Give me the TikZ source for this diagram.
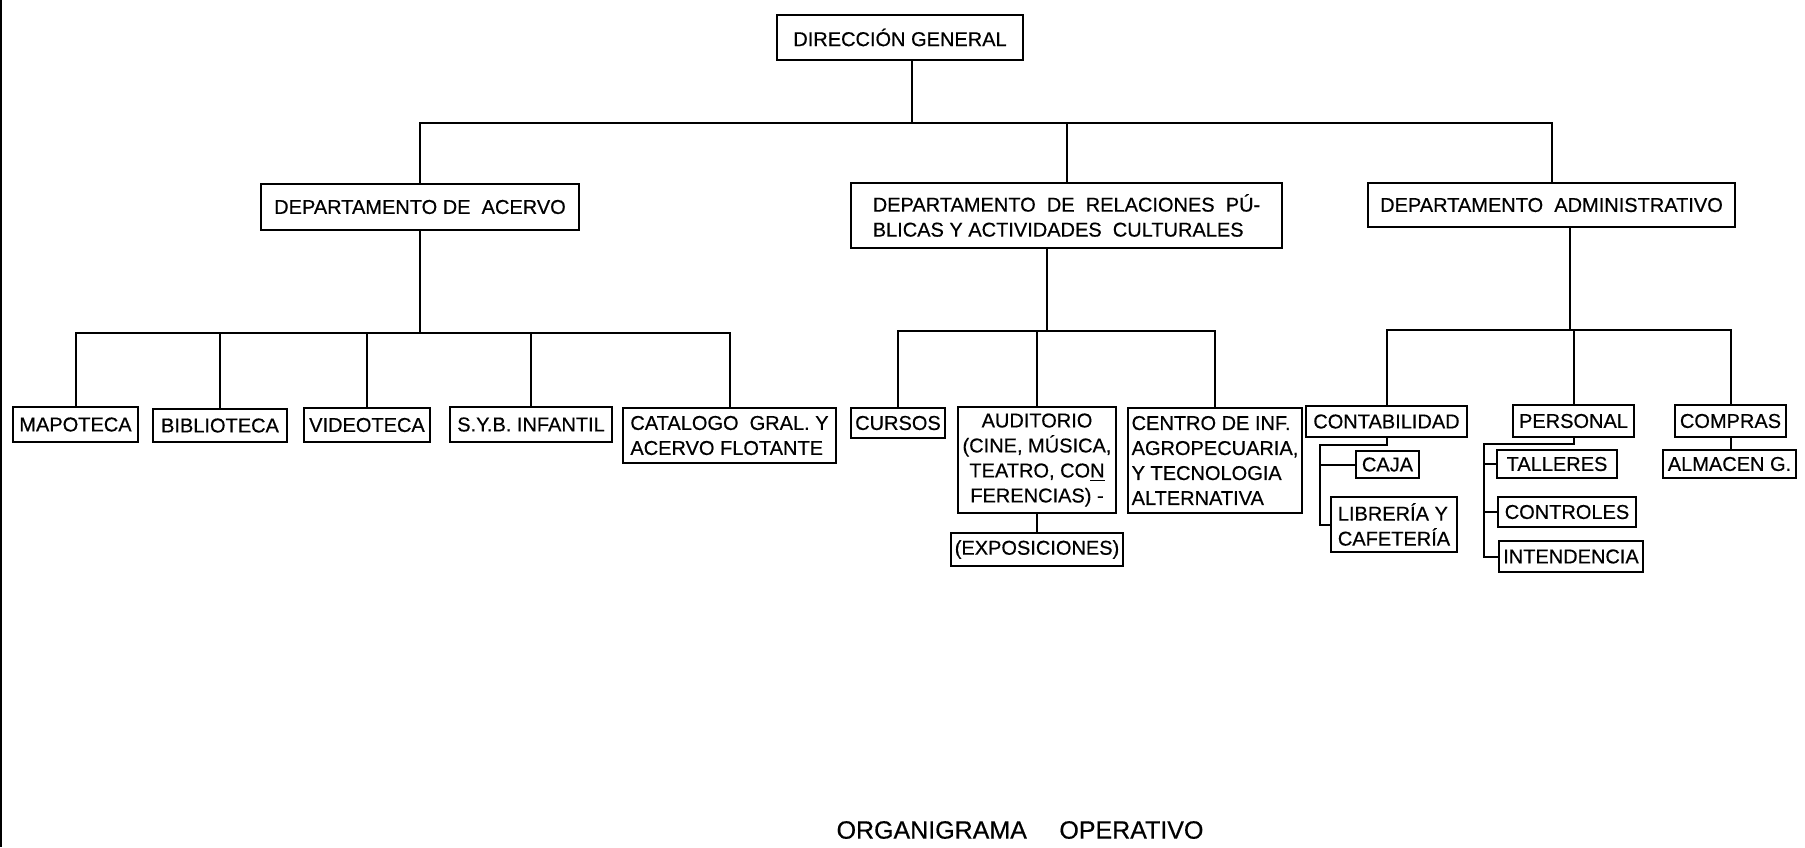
\documentclass[tikz,border=0pt]{standalone}
\usepackage{fontspec}
\setmainfont{Liberation Sans}[FakeBold=0.5]

\tikzset{
  box/.style={draw=black, line width=1pt, rectangle, inner sep=2pt,
    font=\fontsize{10}{12.5}\selectfont},
  wh/.style 2 args={minimum width=#1*0.5pt, minimum height=#2*0.5pt},
  link/.style={line width=1pt}
}

\begin{document}
\begin{tikzpicture}[x=0.5pt, y=-0.5pt]

  \useasboundingbox (0,0) rectangle (1805,847);

  % page edge
  \draw[line width=0.9pt] (1,0) -- (1,847);

  % Direccion general
  \node[box, wh={246}{45}] (dg) at (900,37.5) {DIRECCIÓN GENERAL};

  % Departamentos
  \node[box, wh={318}{46}] (da) at (420,207) {DEPARTAMENTO DE\ \ ACERVO};
  \node[box, wh={431}{65}, align=left] (drp) at (1066.5,215.5)
    {DEPARTAMENTO\ \ DE\ \ RELACIONES\ \ PÚ-\\BLICAS Y ACTIVIDADES\ \ CULTURALES};
  \node[box, wh={367}{44}] (dadm) at (1551.5,205) {DEPARTAMENTO\ \ ADMINISTRATIVO};

  % first bus
  \coordinate (b1) at (912,123);
  \draw[link] (dg.south -| b1) -- (b1);
  \draw[link] (da.north) |- (dadm.north |- b1) -- (dadm.north);
  \draw[link] (drp.north) -- (drp.north |- b1);

  % Acervo
  \node[box, wh={125}{35}] (mapo) at (75.5,424.5) {MAPOTECA};
  \node[box, wh={134}{33}] (bibl) at (220,425.5) {BIBLIOTECA};
  \node[box, wh={126}{34}] (video) at (367,425) {VIDEOTECA};
  \node[box, wh={162}{35}] (syb) at (531,424.5) {S.Y.B. INFANTIL};
  \node[box, wh={213}{55}, align=left] (cat) at (729.5,435.5)
    {CATALOGO\ \ GRAL.\ Y\\ACERVO FLOTANTE};

  \coordinate (b2) at (420,333);
  \draw[link] (da.south) -- (b2);
  \draw[link] (mapo.north) |- (cat.north |- b2) -- (cat.north);
  \foreach \n in {bibl,video,syb}
    \draw[link] (\n.north) -- (\n.north |- b2);

  % Relaciones publicas
  \node[box, wh={88}{30}] (cursos) at (898,423) {CURSOS};
  \node[box, wh={158}{106}, align=center] (audi) at (1037,460)
    {AUDITORIO\\(CINE, MÚSICA,\\TEATRO, CO\underline{N}\\FERENCIAS) -};
  \node[box, wh={158}{33}] (expo) at (1037,549.5) {(EXPOSICIONES)};
  \node[box, wh={166}{105}, align=left, anchor=north] (centro) at (1215,407)
    {CENTRO DE INF.\\AGROPECUARIA,\\Y TECNOLOGIA\\ALTERNATIVA};

  \coordinate (b3) at (1047,331);
  \draw[link] (drp.south -| b3) -- (b3);
  \draw[link] (cursos.north) |- (centro.north |- b3) -- (centro.north);
  \draw[link] (audi.north) -- (audi.north |- b3);
  \draw[link] (audi.south) -- (expo.north);

  % Administrativo
  \node[box, wh={161}{31}] (conta) at (1386.5,421.5) {CONTABILIDAD};
  \node[box, wh={121}{32}] (pers) at (1573.5,421) {PERSONAL};
  \node[box, wh={111}{32}] (compras) at (1730.5,421) {COMPRAS};

  \coordinate (b4) at (1570,330);
  \draw[link] (dadm.south -| b4) -- (b4);
  \draw[link] (conta.north) |- (compras.north |- b4) -- (compras.north);
  \draw[link] (pers.north) -- (pers.north |- b4);

  % Contabilidad
  \node[box, wh={63}{27}] (caja) at (1387.5,464.5) {CAJA};
  \node[box, wh={126}{55}, align=left] (libr) at (1394,524.5)
    {LIBRERÍA Y\\CAFETERÍA};
  \coordinate (c1) at (1320,445);
  \draw[link] (conta.south) |- (c1) |- (libr.west);
  \draw[link] (c1 |- caja.west) -- (caja.west);

  % Personal
  \node[box, wh={120}{28}] (tall) at (1557,464) {TALLERES};
  \node[box, wh={138}{30}] (contr) at (1567,512) {CONTROLES};
  \node[box, wh={144}{31}] (inten) at (1571,556.5) {INTENDENCIA};
  \coordinate (p1) at (1484,444);
  \draw[link] (pers.south) |- (p1) |- (inten.west);
  \draw[link] (p1 |- tall.west) -- (tall.west);
  \draw[link] (p1 |- contr.west) -- (contr.west);

  % Compras
  \node[box, wh={133}{28}] (alma) at (1729.5,464) {ALMACEN G.};
  \draw[link] (compras.south) -- (compras.south |- alma.north);

  % titulo
  \node[font=\fontsize{12.5}{14}\selectfont] (titulo) at (1020,830)
    {ORGANIGRAMA\hspace{1.3em}OPERATIVO};

\end{tikzpicture}
\end{document}
